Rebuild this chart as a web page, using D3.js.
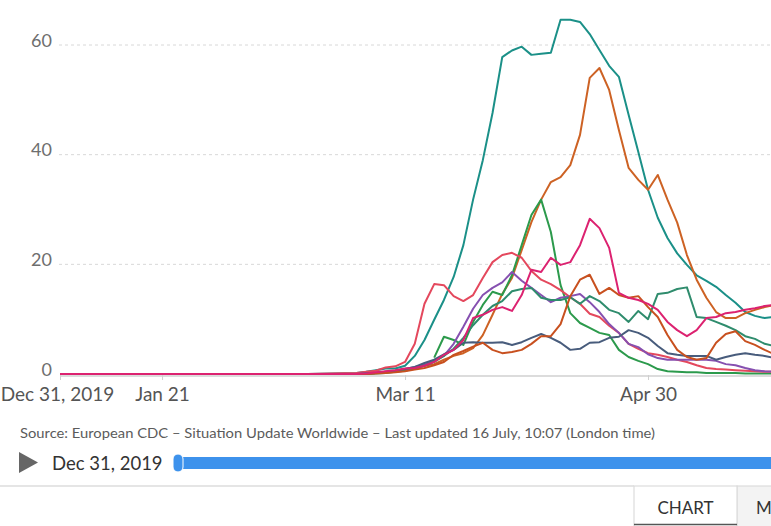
<!DOCTYPE html>
<html><head><meta charset="utf-8">
<script src="https://cdn.jsdelivr.net/npm/d3@7/dist/d3.min.js"></script>
<style>
body{margin:0;background:#fff;overflow:hidden}
svg{display:block;font-family:Lato,"Open Sans",sans-serif}
</style>
</head><body>
<svg id="chart" width="771" height="526"></svg>
<script>
// ---- data ----
const dates = ["2019-12-31","2020-02-20",
 "2020-03-01","2020-03-03","2020-03-05","2020-03-07","2020-03-09","2020-03-11","2020-03-13","2020-03-15",
 "2020-03-17","2020-03-19","2020-03-21","2020-03-23","2020-03-25","2020-03-27","2020-03-29","2020-03-31",
 "2020-04-02","2020-04-04","2020-04-06","2020-04-08","2020-04-10","2020-04-12","2020-04-14","2020-04-16",
 "2020-04-18","2020-04-20","2020-04-22","2020-04-24","2020-04-26","2020-04-28","2020-04-30","2020-05-02",
 "2020-05-04","2020-05-06","2020-05-08","2020-05-10","2020-05-12","2020-05-14","2020-05-16","2020-05-18",
 "2020-05-20","2020-05-22","2020-05-24","2020-05-26"];

const teal = [0,0,
 0.2,0.4,0.7,1.0,1.0,1.5,3.3,6.2,9.9,13.5,17.7,23.5,31.8,39,47.6,57.8,59,59.7,58.2,58.4,58.6,64.6,64.6,64.2,
 62,59.1,56.2,54.2,47.3,40.5,33.6,28.5,24.8,22,19.9,18,17,15.9,14.4,13,11.3,10.6,10.2,10.4];
const orange = [0,0,
 0,0.1,0.2,0.3,0.5,0.7,1.1,1.5,1.8,2.6,3.3,3.8,4.7,7.1,10.8,14.6,17.5,22.6,27.7,31.8,35,35.9,38.1,43.6,
 54,55.8,51.8,44.5,37.6,35.4,33.6,36.3,31.8,27.6,21.7,17.2,13.9,11.3,10.2,10.2,11.1,11.7,12.2,12.6];
const green = [null,null,
 null,null,null,null,null,null,null,null,3.0,6.8,6.2,5.3,9.5,12.6,15,14.4,18,23.5,29,31.8,25.9,16.2,11.1,9.3,
 8.4,7.5,7.1,4.4,3.1,2.4,1.8,0.9,0.5,0.4,0.3,0.3,0.2,0.2,0.2,0.2,0.1,0.1,0.1,0.1];
const red = [0,0,
 0.2,0.4,0.6,1.2,1.4,2.2,5.5,12.8,16.4,16.2,14.2,13.3,14.4,17.5,20.4,21.7,22.1,21.2,18.8,17.2,16.4,15.3,14,12.8,
 11,10.4,8.8,7.5,5.5,4.6,3.8,3.5,3.1,2.6,2.2,1.6,1.1,0.9,0.8,0.7,0.6,0.5,0.4,0.4];
const purple = [0,0,
 0,0.1,0.2,0.4,0.6,0.9,1.3,1.7,2.4,3.3,5.5,8.6,11.9,14.4,15.7,16.7,18.6,17,15.7,14.4,13.1,13.9,14.2,14.6,
 13.1,11.3,9.1,7.5,5.5,4.9,3.6,2.9,2.6,2.6,2.6,2.6,2.6,2.4,1.8,1.6,1.1,0.7,0.5,0.4];
const seaGreen = [0,0,
 0,0,0.1,0.2,0.4,0.6,1.0,1.5,2.2,3.3,4.6,6.6,8.9,10.8,12.4,13.3,15.1,15.5,15.7,13.9,13.5,13.5,14,12.8,
 14.2,13.3,11.7,11.1,9.5,11.5,10,14.6,14.8,15.5,15.8,10.4,10.2,9.5,8.8,8,6.9,6.4,5.5,5.1];
const slate = [0,0,
 0,0.1,0.2,0.4,0.6,0.9,1.3,2,2.6,3.6,4.4,5.7,5.8,5.7,5.7,5.8,5.3,5.8,6.6,7.3,6.6,5.7,4.4,4.6,
 5.7,5.8,6.6,6.8,8,7.5,6.6,5.1,3.8,3.5,3.3,3.3,3.3,2.6,3.1,3.5,3.8,3.5,3.3,2.9];
const rust = [0,0,
 0,0,0.1,0.2,0.3,0.5,0.8,1.1,1.6,2.2,3.5,4.2,5,5.7,4.4,3.8,4,4.4,5.5,6.9,6.9,9.1,14.2,17.2,
 18.1,14.6,15.7,14.4,13.9,14.2,12.2,10.4,7.1,4.4,3.1,2.6,2.9,5.7,7.3,7.8,6,5.3,4.4,3.6];
const magenta = [0,0,
 0,0.1,0.3,0.5,0.7,1.0,1.1,1.5,2.2,3.5,4.4,6.2,10.2,10.8,11.7,12.2,11.5,14.4,19,18.6,21.2,19.9,20.4,23.5,
 28.3,26.6,23,14.8,13.9,13.5,12.8,11.7,9.5,8,6.9,8,10.2,10.4,11.1,11.3,11.7,12,12.4,12.6];

const seriesNames = ["teal","orange","green","red","purple","seaGreen","slate","rust","magenta"];
const seriesValues = [teal, orange, green, red, purple, seaGreen, slate, rust, magenta];
const seriesColors = ["#1b9088","#cd6224","#2c9a4c","#e4485d","#8650b0","#2f8c6d","#485c7c","#c8501f","#dc2270"];

const yTicks = [0,20,40,60];
const xTickDates = ["2019-12-31","2020-01-21","2020-03-11","2020-04-30"];
const xTickLabels = ["Dec 31, 2019","Jan 21","Mar 11","Apr 30"];
const sourceText = "Source: European CDC \u2013 Situation Update Worldwide \u2013 Last updated 16 July, 10:07 (London time)";
const timelineLabel = "Dec 31, 2019";
const tabLabels = ["CHART","MAP"];

// ---- drawing ----
const parse = d3.timeParse("%Y-%m-%d");
const svg = d3.select("#chart");
const x = d3.scaleTime().domain([parse("2019-12-31"), parse("2020-05-26")]).range([60, 774.4]);
const y = d3.scaleLinear().domain([0, 60]).range([374, 45]);

// grid
const grid = svg.append("g");
grid.selectAll("line").data(yTicks.filter(t => t > 0)).join("line")
  .attr("x1", 59).attr("x2", 771)
  .attr("y1", d => y(d)).attr("y2", d => y(d))
  .attr("stroke", "#d8d8d8").attr("stroke-width", 1).attr("stroke-dasharray", "3,3");

// y labels
svg.append("g").selectAll("text").data(yTicks).join("text")
  .attr("x", 52).attr("y", d => y(d) + 1.5)
  .attr("text-anchor", "end")
  .attr("font-size", 18).attr("fill", "#6e6e6e")
  .text(d => d);

// x axis baseline
svg.append("line").attr("x1", 60).attr("x2", 771).attr("y1", 376).attr("y2", 376)
  .attr("stroke", "#d0d0d0").attr("stroke-width", 1.5);

const xAxis = d3.axisBottom(x)
  .tickValues(xTickDates.map(parse))
  .tickFormat((d, i) => xTickLabels[i])
  .tickSize(5).tickSizeOuter(0).tickPadding(8);
const gx = svg.append("g").attr("transform", "translate(0,375)").call(xAxis);
gx.select(".domain").remove();
gx.selectAll(".tick line").attr("stroke", "#cfcfcf");
gx.selectAll(".tick text").attr("font-size", 19).attr("fill", "#555")
  .attr("font-family", "Lato, 'Open Sans', sans-serif")
  .attr("dx", (d, i) => i === 0 ? -3 : 0);

// lines
const line = d3.line()
  .defined(d => d.v !== null)
  .x(d => x(d.date)).y(d => y(d.v));
const lineG = svg.append("g");
seriesValues.forEach((vals, i) => {
  const data = dates.map((ds, j) => ({date: parse(ds), v: vals[j]}));
  lineG.append("path").datum(data)
    .attr("d", line)
    .attr("fill", "none")
    .attr("stroke", seriesColors[i])
    .attr("stroke-width", 2)
    .attr("stroke-linejoin", "round")
    .attr("class", "series-" + seriesNames[i]);
});

// source
svg.append("text").attr("x", 20).attr("y", 438)
  .attr("font-size", 14.2).attr("fill", "#5b5b5b")
  .attr("textLength", 635).attr("lengthAdjust", "spacingAndGlyphs")
  .text(sourceText);

// timeline
svg.append("path").attr("d", "M19,452 L38,462.5 L19,473 Z").attr("fill", "#666");
svg.append("text").attr("x", 52).attr("y", 470)
  .attr("font-size", 18.5).attr("fill", "#333").text(timelineLabel);
svg.append("rect").attr("x", 174).attr("y", 457).attr("width", 620).attr("height", 12)
  .attr("rx", 6).attr("fill", "#3d92ec");
svg.append("rect").attr("x", 173).attr("y", 454).attr("width", 10).attr("height", 18)
  .attr("rx", 5).attr("fill", "#3d92ec").attr("stroke", "#ffffff").attr("stroke-width", 1);

// tabs
svg.append("line").attr("x1", 0).attr("x2", 634).attr("y1", 486).attr("y2", 486)
  .attr("stroke", "#dcdcdc").attr("stroke-width", 1.5);
svg.append("rect").attr("x", 737).attr("y", 486).attr("width", 40).attr("height", 45)
  .attr("fill", "#f3f3f3").attr("stroke", "#dcdcdc").attr("stroke-width", 1.2);
svg.append("rect").attr("x", 634).attr("y", 486).attr("width", 103).attr("height", 45)
  .attr("fill", "#fff").attr("stroke", "#dcdcdc").attr("stroke-width", 1.2);
svg.append("line").attr("x1", 634).attr("x2", 737).attr("y1", 524.5).attr("y2", 524.5)
  .attr("stroke", "#555").attr("stroke-width", 1.5);
svg.append("text").attr("x", 685.5).attr("y", 514).attr("text-anchor", "middle")
  .attr("font-size", 17).attr("fill", "#333").text(tabLabels[0]);
svg.append("text").attr("x", 756).attr("y", 514)
  .attr("font-size", 17).attr("fill", "#333").text(tabLabels[1]);
</script>
</body></html>
